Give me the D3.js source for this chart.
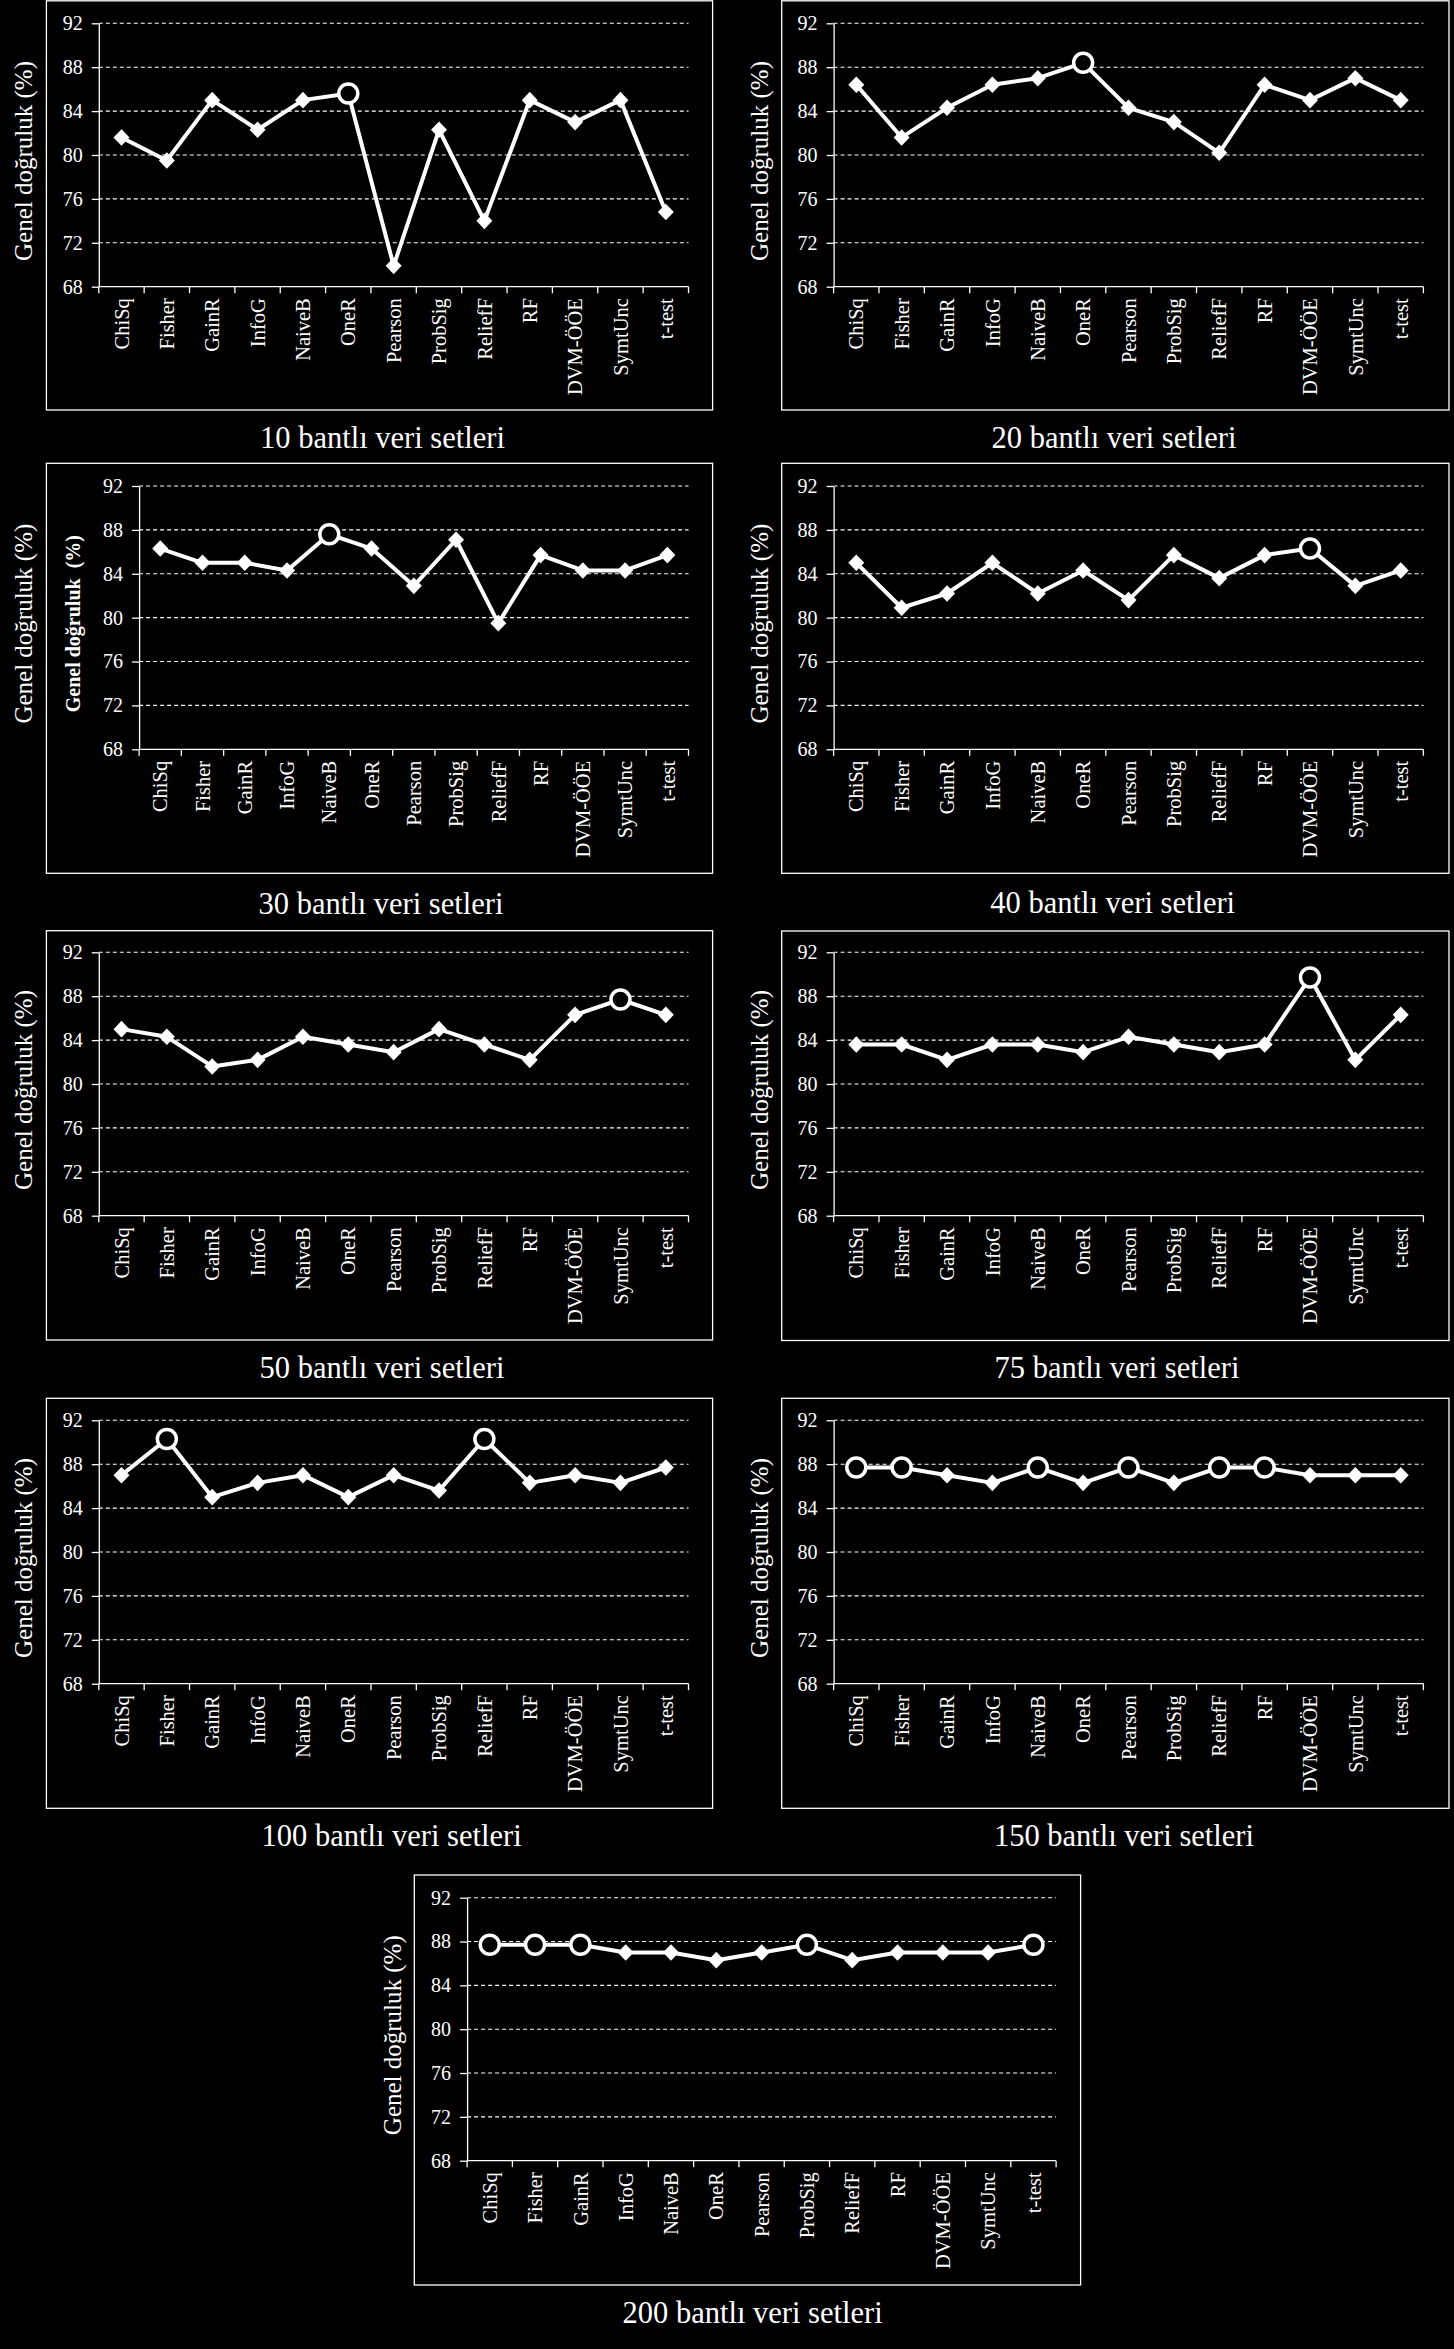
<!DOCTYPE html>
<html><head><meta charset="utf-8">
<script src="https://cdn.jsdelivr.net/npm/d3@7"></script>
<style>
body{margin:0;background:#000;}
svg{display:block;background:#000;}
text{font-family:"Liberation Serif","Times New Roman",serif;fill:#fff;}
</style>
</head><body>
<svg id="c" width="1454" height="2349"></svg>
<script>
const categories = ["ChiSq","Fisher","GainR","InfoG","NaiveB","OneR","Pearson","ProbSig","ReliefF","RF","DVM-ÖÖE","SymtUnc","t-test"];
const yTicks = [68,72,76,80,84,88,92];
const titles = ["10 bantlı veri setleri","20 bantlı veri setleri","30 bantlı veri setleri","40 bantlı veri setleri","50 bantlı veri setleri","75 bantlı veri setleri","100 bantlı veri setleri","150 bantlı veri setleri","200 bantlı veri setleri"];
const yLabel = "Genel doğruluk (%)";
const innerYLabel = "Genel doğruluk  (%)";

const acc10  = [81.6, 79.5, 85.0, 82.3, 85.0, 85.6, 69.9, 82.3, 74.0, 85.0, 83.0, 85.0, 74.8];
const acc20  = [86.4, 81.6, 84.3, 86.4, 87.0, 88.4, 84.3, 83.0, 80.2, 86.4, 85.0, 87.0, 85.0];
const acc30  = [86.3, 85.0, 85.0, 84.3, 87.6, 86.3, 82.9, 87.1, 79.5, 85.7, 84.3, 84.3, 85.7];
const acc40  = [85.0, 80.9, 82.2, 85.0, 82.2, 84.3, 81.6, 85.7, 83.6, 85.7, 86.3, 82.9, 84.3];
const acc50  = [85.0, 84.3, 81.6, 82.2, 84.3, 83.6, 82.9, 85.0, 83.6, 82.2, 86.3, 87.7, 86.3];
const acc75  = [83.6, 83.6, 82.2, 83.6, 83.6, 82.9, 84.3, 83.6, 82.9, 83.6, 89.7, 82.2, 86.3];
const acc100 = [87.0, 90.3, 85.0, 86.3, 87.0, 85.0, 87.0, 85.6, 90.3, 86.3, 87.0, 86.3, 87.7];
const acc150 = [87.7, 87.7, 87.0, 86.3, 87.7, 86.3, 87.7, 86.3, 87.7, 87.7, 87.0, 87.0, 87.0];
const acc200 = [87.7, 87.7, 87.7, 87.0, 87.0, 86.3, 87.0, 87.7, 86.3, 87.0, 87.0, 87.0, 87.7];
const series = [acc10, acc20, acc30, acc40, acc50, acc75, acc100, acc150, acc200];

// layout (pixel positions) per panel
const layout = [
 {frame:[46.4,0.8,712.6,410],   ax:98.8,  ar:688.5,  yt:23.3,   yb:286.7,  tx:382.5,  ty:447.7, lx:25.5},
 {frame:[781.7,0.8,1449,410],   ax:833.6, ar:1423.4, yt:23.3,   yb:286.7,  tx:1114,   ty:447.7, lx:761.8},
 {frame:[46.4,463.3,712.6,873.3], ax:139.1, ar:688.5, yt:486,   yb:749.3,  tx:381,    ty:914,   lx:25.5, inner:74.2},
 {frame:[781.7,463.3,1449,873.3], ax:833.6, ar:1423.4, yt:486,  yb:749.3,  tx:1112.7, ty:913.3, lx:761.8},
 {frame:[46.4,930.7,712.6,1340],  ax:98.8, ar:688.5,  yt:952.3,  yb:1215.7, tx:382,    ty:1378,  lx:25.5},
 {frame:[781.7,931,1449,1340.5],  ax:833.6, ar:1423.4, yt:952.3, yb:1215.7, tx:1117,   ty:1378,  lx:761.8},
 {frame:[46.4,1398.3,712.6,1808.3], ax:98.8, ar:688.5, yt:1420.3, yb:1683.7, tx:391.6, ty:1846,  lx:25.5},
 {frame:[781.7,1398.3,1449,1808.3], ax:833.6, ar:1423.4, yt:1420.3, yb:1683.7, tx:1123.9, ty:1846, lx:761.8},
 {frame:[414.3,1875,1080.6,2285], ax:467.1, ar:1056.1, yt:1897.7, yb:2160.7, tx:752.6,  ty:2323.3, lx:395.4}
];

const svg = d3.select("#c");
svg.append("rect").attr("width",1454).attr("height",2349).attr("fill","#000");

layout.forEach((L, i) => {
  const values = series[i];
  const g = svg.append("g");
  const x = d3.scaleBand().domain(categories).range([L.ax, L.ar]).padding(0);
  const y = d3.scaleLinear().domain([68, 92]).range([L.yb, L.yt]);
  const bw = x.bandwidth();
  const cx = c => x(c) + bw / 2;

  // frame
  g.append("rect")
    .attr("x", L.frame[0]).attr("y", L.frame[1])
    .attr("width", L.frame[2] - L.frame[0]).attr("height", L.frame[3] - L.frame[1])
    .attr("fill", "none").attr("stroke", "#fff").attr("stroke-width", 1.3);

  // gridlines
  g.selectAll(".grid").data(yTicks.filter(t => t > 68)).enter().append("line")
    .attr("x1", L.ax).attr("x2", L.ar)
    .attr("y1", d => y(d)).attr("y2", d => y(d))
    .attr("stroke", "#fff").attr("stroke-width", 1.1).attr("stroke-dasharray", "4,3");

  // y axis
  const yAxis = d3.axisLeft(y).tickValues(yTicks).tickSize(7).tickSizeOuter(0).tickPadding(9);
  const ya = g.append("g").attr("transform", `translate(${L.ax},0)`).call(yAxis);
  ya.select(".domain").attr("stroke", "#fff").attr("stroke-width", 1.3);
  ya.selectAll(".tick line").attr("stroke", "#fff").attr("stroke-width", 1.3);
  ya.selectAll(".tick text").attr("fill", "#fff")
    .style("font-family", '"Liberation Serif","Times New Roman",serif').style("font-size", "20px");

  // x axis
  g.append("line").attr("x1", L.ax).attr("x2", L.ar).attr("y1", y(68)).attr("y2", y(68))
    .attr("stroke", "#fff").attr("stroke-width", 1.3);
  const bounds = categories.map(c => x(c)).concat([L.ar]);
  g.selectAll(".xt").data(bounds).enter().append("line")
    .attr("x1", d => d).attr("x2", d => d).attr("y1", y(68)).attr("y2", y(68) + 6.5)
    .attr("stroke", "#fff").attr("stroke-width", 1.3);
  g.selectAll(".xl").data(categories).enter().append("text")
    .attr("transform", d => `translate(${cx(d)},${y(68) + 11.5}) rotate(-90)`)
    .attr("dy", "0.35em").attr("text-anchor", "end")
    .style("font-size", "20.5px").text(d => d);

  // y label
  const cy = (L.yt + L.yb) / 2 + 6;
  g.append("text").attr("transform", `translate(${L.lx},${cy}) rotate(-90)`)
    .attr("dy", "0.24em").attr("text-anchor", "middle")
    .style("font-size", "25px").text(yLabel);
  if (L.inner) {
    g.append("text").attr("transform", `translate(${L.inner},${cy}) rotate(-90)`)
      .attr("dy", "0.3em").attr("text-anchor", "middle")
      .style("font-size", "20px").style("font-weight", "bold").style("white-space", "pre")
      .text(innerYLabel);
  }

  // title
  g.append("text").attr("x", L.tx).attr("y", L.ty).attr("text-anchor", "middle")
    .style("font-size", "30.5px").text(titles[i]);

  // line
  const line = d3.line().x((d, j) => cx(categories[j])).y(d => y(d));
  g.append("path").datum(values).attr("d", line)
    .attr("fill", "none").attr("stroke", "#fff").attr("stroke-width", 4).attr("stroke-linejoin", "round");

  const maxV = d3.max(values);
  const pts = values.map((v, j) => ({v, c: categories[j], best: v === maxV}));
  g.selectAll(".dia").data(pts.filter(p => !p.best)).enter().append("path")
    .attr("d", "M0,-8.3L8,0L0,8.3L-8,0Z")
    .attr("transform", p => `translate(${cx(p.c)},${y(p.v)})`)
    .attr("fill", "#fff");
  g.selectAll(".cir").data(pts.filter(p => p.best)).enter().append("circle")
    .attr("cx", p => cx(p.c)).attr("cy", p => y(p.v)).attr("r", 9.5)
    .attr("fill", "#000").attr("stroke", "#fff").attr("stroke-width", 3.5);
});
</script>
</body></html>
